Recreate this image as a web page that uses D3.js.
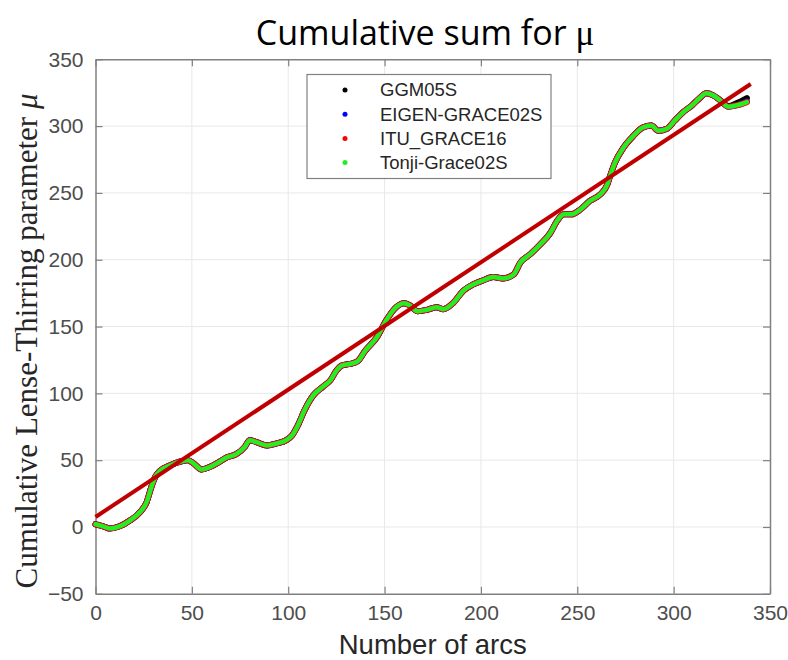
<!DOCTYPE html>
<html>
<head>
<meta charset="utf-8">
<script src="https://cdn.jsdelivr.net/npm/d3@7"></script>
<style>
  body { margin: 0; background: #fff; }
  svg { display: block; }
</style>
</head>
<body>
<svg width="788" height="660"></svg>
<script>
(function(){
	'use strict';

	// values
	const arcs = [0, 1, 4, 7.5, 12.5, 18, 23, 26.5, 29, 31, 33.5, 38.5, 44, 48, 51, 55, 59.5, 64, 68, 73,
		77.5, 80, 83.5, 89, 94, 99, 102, 105, 108.5, 113, 118, 122, 125, 128, 132, 136, 140, 146, 151, 156,
		160, 163, 167, 172, 177, 180.5, 185.5, 191, 196, 201, 206.5, 211.5, 217, 220.5, 225.5, 230.5, 236, 239.5, 243, 247,
		251.5, 256.5, 262, 265.5, 267, 269.5, 274, 279, 284, 288.5, 292, 296.5, 300.5, 305, 309.5, 313.5, 317, 320.5, 324, 328.5,
		332.5, 338];

	const ggm05s = [2, 1.7, 0.5, -1.2, 0.5, 5, 11, 18.5, 30, 37.5, 42, 46, 49, 50, 47.5, 43, 45, 48.5, 52, 54.5,
		60, 65, 63.5, 61, 62.5, 65, 68.5, 76, 87.5, 98.5, 105, 110, 117, 121, 122, 124, 132, 142, 155, 164.5,
		167.5, 166, 161.5, 162.5, 164.5, 163, 167.5, 177, 181.5, 184.5, 187, 186, 189, 198, 204, 211, 220, 229, 234, 234,
		237.5, 244, 249, 256, 262.5, 272.5, 284, 292.5, 299, 300.5, 296.5, 298, 304, 310.5, 315.5, 321, 324.5, 323, 319.5, 315,
		317, 321];

	const eigen02s = [2, 1.7, 0.5, -1.2, 0.5, 5, 11, 18.5, 30, 37.5, 42, 46, 49, 50, 47.5, 43, 45, 48.5, 52, 54.5,
		60, 65, 63.5, 61, 62.5, 65, 68.5, 76, 87.5, 98.5, 105, 110, 117, 121, 122, 124, 132, 142, 155, 164.5,
		167.5, 166, 161.5, 162.5, 164.5, 163, 167.5, 177, 181.5, 184.5, 187, 186, 189, 198, 204, 211, 220, 229, 234, 234,
		237.5, 244, 249, 256, 262.5, 272.5, 284, 292.5, 299, 300.5, 296.5, 298, 304, 310.5, 315.5, 321, 324.5, 323, 319.5, 314.5,
		315.5, 318.5];

	const itu16 = [2, 1.7, 0.5, -1.2, 0.5, 5, 11, 18.5, 30, 37.5, 42, 46, 49, 50, 47.5, 43, 45, 48.5, 52, 54.5,
		60, 65, 63.5, 61, 62.5, 65, 68.5, 76, 87.5, 98.5, 105, 110, 117, 121, 122, 124, 132, 142, 155, 164.5,
		167.5, 166, 161.5, 162.5, 164.5, 163, 167.5, 177, 181.5, 184.5, 187, 186, 189, 198, 204, 211, 220, 229, 234, 234,
		237.5, 244, 249, 256, 262.5, 272.5, 284, 292.5, 299, 300.5, 296.5, 298, 304, 310.5, 315.5, 321, 324.5, 323, 319.5, 314.5,
		315.5, 318];

	const tonji02s = [2, 1.7, 0.5, -1.2, 0.5, 5, 11, 18.5, 30, 37.5, 42, 46, 49, 50, 47.5, 43, 45, 48.5, 52, 54.5,
		60, 65, 63.5, 61, 62.5, 65, 68.5, 76, 87.5, 98.5, 105, 110, 117, 121, 122, 124, 132, 142, 155, 164.5,
		167.5, 166, 161.5, 162.5, 164.5, 163, 167.5, 177, 181.5, 184.5, 187, 186, 189, 198, 204, 211, 220, 229, 234, 234,
		237.5, 244, 249, 256, 262.5, 272.5, 284, 292.5, 299, 300.5, 296.5, 298, 304, 310.5, 315.5, 321, 324.5, 323, 319.5, 314.5,
		315.5, 318];

	const seriesNames = ['GGM05S', 'EIGEN-GRACE02S', 'ITU_GRACE16', 'Tonji-Grace02S'];
	const seriesColors = ['#000000', '#0000ff', '#ff0000', '#22ee22'];
	const seriesValues = [ggm05s, eigen02s, itu16, tonji02s];

	// linear fit line
	const fitArcs = [0, 340];
	const fitValues = [7.5, 331.5];

	const xTicks = [0, 50, 100, 150, 200, 250, 300, 350];
	const yTicks = [-50, 0, 50, 100, 150, 200, 250, 300, 350];

	const svg = d3.select('svg');
	const left = 95.5, right = 770, top = 59.3, bottom = 593.8;

	const x = d3.scaleLinear().domain([0, 350]).range([left, right]);
	const y = d3.scaleLinear().domain([-50, 350]).range([bottom, top]);

	const tickFont = '"Liberation Sans", Arial, sans-serif';
	const axisGrey = '#808080';

	// title
	const title = svg.append('text')
		.attr('x', 425)
		.attr('y', 45)
		.attr('text-anchor', 'middle')
		.attr('font-family', '"Open Sans", sans-serif')
		.attr('font-size', 34)
		.attr('fill', '#000');
	title.append('tspan').text('Cumulative sum for ');
	title.append('tspan')
		.attr('font-family', '"Liberation Serif", serif')
		.attr('font-size', 35)
		.text('μ');

	// grid
	const grid = svg.append('g').attr('stroke', '#e8e8e8').attr('stroke-width', 1);
	grid.selectAll('line.vx')
		.data(xTicks.slice(1, -1))
		.enter().append('line')
			.attr('x1', d => x(d)).attr('x2', d => x(d))
			.attr('y1', top).attr('y2', bottom);
	grid.selectAll('line.hy')
		.data(yTicks.slice(1, -1))
		.enter().append('line')
			.attr('x1', left).attr('x2', right)
			.attr('y1', d => y(d)).attr('y2', d => y(d));

	// axes
	const xAxis = svg.append('g')
		.attr('transform', `translate(0, ${bottom})`)
		.call(d3.axisBottom(x).tickValues(xTicks).tickSizeInner(-7).tickSizeOuter(0).tickPadding(11));
	const yAxis = svg.append('g')
		.attr('transform', `translate(${left}, 0)`)
		.call(d3.axisLeft(y).tickValues(yTicks).tickSizeInner(-7).tickSizeOuter(0).tickPadding(12));
	const xTop = svg.append('g')
		.attr('transform', `translate(0, ${top})`)
		.call(d3.axisTop(x).tickValues(xTicks).tickSizeInner(-7).tickSizeOuter(0).tickFormat(''));
	const yRight = svg.append('g')
		.attr('transform', `translate(${right}, 0)`)
		.call(d3.axisRight(y).tickValues(yTicks).tickSizeInner(-7).tickSizeOuter(0).tickFormat(''));

	[xAxis, yAxis, xTop, yRight].forEach(a => {
		a.select('.domain').attr('stroke', axisGrey).attr('stroke-width', 1.5);
		a.selectAll('.tick line').attr('stroke', axisGrey).attr('stroke-width', 1.2);
		a.selectAll('.tick text')
			.attr('fill', '#4d4d4d')
			.attr('font-family', tickFont)
			.attr('font-size', 21);
	});

	// axis labels
	svg.append('text')
		.attr('x', (left + right) / 2)
		.attr('y', 654)
		.attr('text-anchor', 'middle')
		.attr('font-family', tickFont)
		.attr('font-size', 27.5)
		.attr('fill', '#262626')
		.text('Number of arcs');

	const yLabel = svg.append('text')
		.attr('transform', `translate(37, ${341}) rotate(-90)`)
		.attr('text-anchor', 'middle')
		.attr('font-family', '"Liberation Serif", "DejaVu Serif", serif')
		.attr('font-size', 31)
		.attr('fill', '#262626');
	yLabel.append('tspan').text('Cumulative Lense-Thirring parameter ');
	yLabel.append('tspan').attr('font-style', 'italic').text('μ');

	// series
	const line = d3.line()
		.x(d => x(d[0]))
		.y(d => y(d[1]))
		.curve(d3.curveMonotoneX);

	seriesValues.forEach((vals, i) => {
		svg.append('path')
			.datum(arcs.map((a, j) => [a, vals[j]]))
			.attr('fill', 'none')
			.attr('stroke', seriesColors[i])
			.attr('stroke-width', i === 3 ? 4.5 : 6)
			.attr('stroke-linecap', 'round')
			.attr('stroke-linejoin', 'round')
			.attr('d', line);
	});

	// fit line
	svg.append('path')
		.datum(fitArcs.map((a, j) => [a, fitValues[j]]))
		.attr('fill', 'none')
		.attr('stroke', '#c00000')
		.attr('stroke-width', 4)
		.attr('d', d3.line().x(d => x(d[0])).y(d => y(d[1])));

	// legend
	const legend = svg.append('g');
	legend.append('rect')
		.attr('x', 307).attr('y', 74.5)
		.attr('width', 244).attr('height', 104)
		.attr('fill', '#fff')
		.attr('stroke', axisGrey)
		.attr('stroke-width', 1.2);

	const items = legend.selectAll('g.item')
		.data(seriesNames)
		.enter().append('g')
			.attr('transform', (d, i) => `translate(345, ${90 + i * 24.2})`);
	items.append('circle')
		.attr('r', 2.5)
		.attr('fill', (d, i) => seriesColors[i]);
	items.append('text')
		.attr('x', 35)
		.attr('dy', '0.35em')
		.attr('font-family', tickFont)
		.attr('font-size', 18.5)
		.attr('fill', '#262626')
		.text(d => d);
})();
</script>
</body>
</html>
